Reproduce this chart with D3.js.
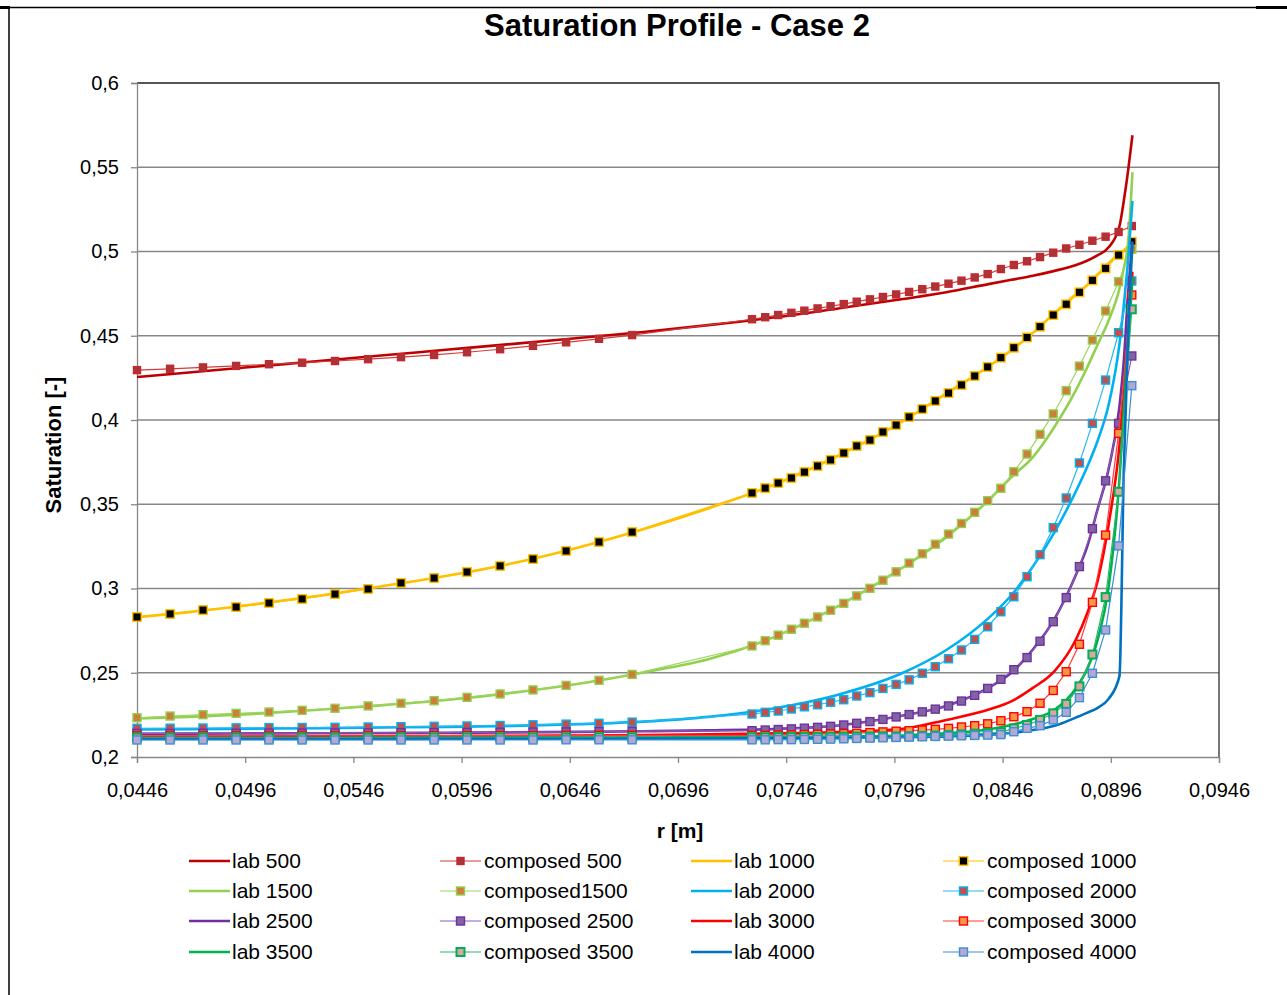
<!DOCTYPE html>
<html>
<head>
<meta charset="utf-8">
<script src="https://cdn.jsdelivr.net/npm/d3@7"></script>
<style>
  body { margin: 0; background: #fff; }
  svg { display: block; font-family: "Liberation Sans", Arial, sans-serif; }
</style>
</head>
<body>
<div id="chart"></div>
<script>
// radius grid of the lab (continuous) curves
const labR = [0.0446, 0.047, 0.050, 0.053, 0.056, 0.059, 0.062, 0.065, 0.068, 0.071,
  0.074, 0.077, 0.080, 0.082, 0.084, 0.085, 0.086, 0.087, 0.088, 0.0885,
  0.089, 0.0895, 0.090, 0.0902, 0.0904, 0.0906];

// radius grid of the composed (marker) series
const composedR = [0.0446, 0.04613, 0.04765, 0.04918, 0.0507, 0.05223, 0.05375, 0.05528,
  0.0568, 0.05833, 0.05985, 0.06138, 0.0629, 0.06443, 0.06595, 0.06748,
  0.07302, 0.07363, 0.07423, 0.07484, 0.07544, 0.07605, 0.07665, 0.07726, 0.07786, 0.07847,
  0.07907, 0.07968, 0.08028, 0.08089, 0.08149, 0.0821, 0.0827, 0.08331, 0.08391, 0.08452,
  0.08512, 0.08573, 0.08633, 0.08694, 0.08754, 0.08815, 0.08875, 0.08936, 0.08996, 0.09057];

const lab500 = [0.4255, 0.4282, 0.4316, 0.4350, 0.4384, 0.4418, 0.4452, 0.4487, 0.4522, 0.4563,
  0.4608, 0.4662, 0.4718, 0.4758, 0.4808, 0.4832, 0.4856, 0.4885, 0.4920, 0.4945,
  0.4978, 0.5025, 0.5150, 0.5300, 0.5480, 0.5690];
const lab1000 = [0.2831, 0.2860, 0.2906, 0.2957, 0.3015, 0.3077, 0.3151, 0.3244, 0.3352, 0.3475,
  0.3614, 0.3788, 0.3993, 0.4158, 0.4322, 0.4413, 0.4517, 0.4635, 0.4748, 0.4800,
  0.4865, 0.4930, 0.4990, 0.5005, 0.5025, 0.5055];
const lab1500 = [0.2228, 0.2238, 0.2256, 0.2280, 0.2308, 0.2340, 0.2382, 0.2435, 0.2502, 0.2580,
  0.2710, 0.2895, 0.3125, 0.3305, 0.3530, 0.3660, 0.3780, 0.3960, 0.4180, 0.4310,
  0.4450, 0.4590, 0.4780, 0.4900, 0.5050, 0.5470];
const lab2000 = [0.2163, 0.2165, 0.2168, 0.2171, 0.2175, 0.2179, 0.2185, 0.2195, 0.2210, 0.2238,
  0.2288, 0.2370, 0.2500, 0.2635, 0.2830, 0.2960, 0.3130, 0.3335, 0.3580, 0.3720,
  0.3880, 0.4090, 0.4450, 0.4680, 0.4950, 0.5300];
const lab2500 = [0.2138, 0.2139, 0.2140, 0.2141, 0.2142, 0.2144, 0.2146, 0.2149, 0.2153, 0.2158,
  0.2166, 0.2187, 0.2246, 0.2303, 0.2415, 0.2500, 0.2638, 0.2820, 0.3085, 0.3245,
  0.3475, 0.3710, 0.4080, 0.4350, 0.4750, 0.5060];
const lab3000 = [0.2120, 0.2121, 0.2122, 0.2123, 0.2124, 0.2125, 0.2126, 0.2128, 0.2130, 0.2134,
  0.2140, 0.2148, 0.2168, 0.2220, 0.2283, 0.2330, 0.2410, 0.2510, 0.2700, 0.2850,
  0.3050, 0.3380, 0.3850, 0.4150, 0.4500, 0.4880];
const lab3500 = [0.2112, 0.2112, 0.2113, 0.2113, 0.2114, 0.2114, 0.2115, 0.2115, 0.2116, 0.2117,
  0.2118, 0.2122, 0.2128, 0.2140, 0.2165, 0.2190, 0.2225, 0.2280, 0.2410, 0.2520,
  0.2700, 0.3010, 0.3650, 0.4050, 0.4450, 0.4850];
const lab4000 = [0.2107, 0.2107, 0.2107, 0.2107, 0.2107, 0.2108, 0.2108, 0.2108, 0.2109, 0.2110,
  0.2111, 0.2113, 0.2117, 0.2122, 0.2132, 0.2142, 0.2160, 0.2185, 0.2235, 0.2262,
  0.2292, 0.2345, 0.2480, 0.3700, 0.4500, 0.5050];

const composed500 = [0.4296, 0.4304, 0.4312, 0.4321, 0.4331, 0.4340, 0.4350, 0.4361, 0.4373, 0.4386,
  0.4402, 0.4420, 0.4440, 0.4461, 0.4482, 0.4504,
  0.4598, 0.4610, 0.4623, 0.4636, 0.4649, 0.4662, 0.4675, 0.4688, 0.4702, 0.4716,
  0.4730, 0.4745, 0.4760, 0.4776, 0.4792, 0.4809, 0.4827, 0.4846, 0.4866, 0.4896,
  0.4920, 0.4942, 0.4967, 0.4993, 0.5018, 0.5040, 0.5064, 0.5088, 0.5116, 0.5151];
const composed1000 = [0.2831, 0.2849, 0.2872, 0.2890, 0.2914, 0.2938, 0.2967, 0.2997, 0.3033, 0.3062,
  0.3098, 0.3134, 0.3175, 0.3223, 0.3276, 0.3335,
  0.3567, 0.3596, 0.3626, 0.3656, 0.3691, 0.3727, 0.3763, 0.3804, 0.3846, 0.3881,
  0.3929, 0.3970, 0.4018, 0.4065, 0.4113, 0.4160, 0.4208, 0.4261, 0.4315, 0.4370,
  0.4429, 0.4490, 0.4554, 0.4623, 0.4687, 0.4758, 0.4829, 0.4900, 0.4979, 0.5058];
const composed1500 = [0.2233, 0.2243, 0.2251, 0.2259, 0.2267, 0.2277, 0.2289, 0.2303, 0.2319, 0.2334,
  0.2354, 0.2374, 0.2398, 0.2425, 0.2455, 0.2490,
  0.2659, 0.2690, 0.2723, 0.2758, 0.2794, 0.2831, 0.2871, 0.2912, 0.2956, 0.3001,
  0.3049, 0.3099, 0.3151, 0.3206, 0.3263, 0.3323, 0.3386, 0.3452, 0.3521, 0.3595,
  0.3693, 0.3798, 0.3915, 0.4036, 0.4174, 0.4320, 0.4475, 0.4647, 0.4821, 0.5013];
const composed2000 = [0.2170, 0.2171, 0.2172, 0.2173, 0.2174, 0.2175, 0.2176, 0.2178, 0.2180, 0.2182,
  0.2184, 0.2187, 0.2191, 0.2195, 0.2200, 0.2207,
  0.2255, 0.2265, 0.2273, 0.2285, 0.2298, 0.2310, 0.2325, 0.2340, 0.2362, 0.2382,
  0.2407, 0.2431, 0.2458, 0.2497, 0.2536, 0.2583, 0.2635, 0.2698, 0.2773, 0.2862,
  0.2951, 0.3070, 0.3201, 0.3361, 0.3537, 0.3745, 0.3980, 0.4237, 0.4518, 0.4825];
const composed2500 = [0.2140, 0.2140, 0.2141, 0.2141, 0.2142, 0.2142, 0.2143, 0.2143, 0.2144, 0.2145,
  0.2146, 0.2147, 0.2148, 0.2149, 0.2151, 0.2153,
  0.2156, 0.2160, 0.2163, 0.2167, 0.2171, 0.2176, 0.2182, 0.2190, 0.2200, 0.2210,
  0.2223, 0.2238, 0.2252, 0.2268, 0.2284, 0.2303, 0.2332, 0.2366, 0.2407, 0.2461,
  0.2518, 0.2590, 0.2687, 0.2803, 0.2946, 0.3130, 0.3355, 0.3639, 0.3980, 0.4380];
const composed3000 = [0.2125, 0.2125, 0.2125, 0.2125, 0.2125, 0.2126, 0.2126, 0.2126, 0.2126, 0.2127,
  0.2127, 0.2127, 0.2127, 0.2128, 0.2128, 0.2128,
  0.2128, 0.2129, 0.2130, 0.2131, 0.2133, 0.2135, 0.2137, 0.2139, 0.2141, 0.2145,
  0.2149, 0.2153, 0.2156, 0.2160, 0.2164, 0.2170, 0.2178, 0.2186, 0.2197, 0.2215,
  0.2239, 0.2269, 0.2319, 0.2395, 0.2506, 0.2669, 0.2918, 0.3317, 0.3921, 0.4742];
const composed3500 = [0.2115, 0.2115, 0.2115, 0.2115, 0.2115, 0.2115, 0.2115, 0.2115, 0.2116, 0.2116,
  0.2116, 0.2116, 0.2116, 0.2116, 0.2117, 0.2117,
  0.2117, 0.2117, 0.2118, 0.2118, 0.2119, 0.2119, 0.2120, 0.2120, 0.2121, 0.2121,
  0.2122, 0.2122, 0.2123, 0.2125, 0.2127, 0.2130, 0.2134, 0.2138, 0.2142, 0.2147,
  0.2170, 0.2190, 0.2220, 0.2259, 0.2315, 0.2419, 0.2608, 0.2949, 0.3574, 0.4657];
const composed4000 = [0.2101, 0.2101, 0.2101, 0.2101, 0.2101, 0.2101, 0.2101, 0.2101, 0.2101, 0.2101,
  0.2101, 0.2101, 0.2101, 0.2102, 0.2102, 0.2102,
  0.2102, 0.2102, 0.2103, 0.2103, 0.2104, 0.2105, 0.2106, 0.2108, 0.2110, 0.2112,
  0.2114, 0.2116, 0.2118, 0.2120, 0.2122, 0.2124, 0.2126, 0.2128, 0.2130, 0.2133,
  0.2150, 0.2170, 0.2186, 0.2220, 0.2265, 0.2352, 0.2497, 0.2754, 0.3253, 0.4204];

const labNames = ['lab 500', 'lab 1000', 'lab 1500', 'lab 2000', 'lab 2500', 'lab 3000', 'lab 3500', 'lab 4000'];
const composedNames = ['composed 500', 'composed 1000', 'composed1500', 'composed 2000',
  'composed 2500', 'composed 3000', 'composed 3500', 'composed 4000'];
const labValues = [lab500, lab1000, lab1500, lab2000, lab2500, lab3000, lab3500, lab4000];
const composedValues = [composed500, composed1000, composed1500, composed2000,
  composed2500, composed3000, composed3500, composed4000];

const xTicks = [0.0446, 0.0496, 0.0546, 0.0596, 0.0646, 0.0696, 0.0746, 0.0796, 0.0846, 0.0896, 0.0946];
const yTicks = [0.2, 0.25, 0.3, 0.35, 0.4, 0.45, 0.5, 0.55, 0.6];

// styles
const labColor = ['#C00000', '#FFC000', '#92D050', '#00B0F0', '#7030A0', '#FF0000', '#00B050', '#0070C0'];
const compLine = ['#D23C3C', '#FFC000', '#9CD65E', '#28B8F0', '#8A5CB8', '#FF3A3A', '#2AB865', '#3C8ED6'];
const compFill = ['#A8353A', '#000000', '#CD7F3A', '#C0504D', '#8064A2', '#F79646', '#D9A5A5', '#B3A9D0'];
const compStroke = ['#C8262B', '#FFC000', '#92D050', '#00B0F0', '#7030A0', '#FF0000', '#00B050', '#3C8ED6'];
const markSize = [7, 8.5, 8, 8, 8, 8, 8, 8];

const W = 1287, H = 995;
const fmt = d => String(d).replace('.', ',');

const svg = d3.select('#chart').append('svg').attr('width', W).attr('height', H);

// page frame
svg.append('line').attr('x1', 0).attr('x2', W).attr('y1', 7.5).attr('y2', 7.5)
  .attr('stroke', '#000').attr('stroke-width', 1.5);
svg.append('line').attr('x1', 1256).attr('x2', W).attr('y1', 7.5).attr('y2', 7.5)
  .attr('stroke', '#000').attr('stroke-width', 3);
svg.append('line').attr('x1', 0).attr('x2', 10).attr('y1', 7.5).attr('y2', 7.5)
  .attr('stroke', '#000').attr('stroke-width', 3);
svg.append('line').attr('x1', 9).attr('x2', 9).attr('y1', 7).attr('y2', H)
  .attr('stroke', '#000').attr('stroke-width', 1.5);

const x = d3.scaleLinear().domain([0.0446, 0.0946]).range([137, 1219]);
const y = d3.scaleLinear().domain([0.2, 0.6]).range([757, 83]);

// grid
svg.append('g').selectAll('line').data(yTicks.slice(1)).join('line')
  .attr('x1', 137).attr('x2', 1219)
  .attr('y1', d => y(d)).attr('y2', d => y(d))
  .attr('stroke', '#878787').attr('stroke-width', 1.3);
svg.append('path')
  .attr('d', `M${x(0.0446)},${y(0.6)}H${x(0.0946)}V${y(0.2)}`)
  .attr('fill', 'none').attr('stroke', '#3c3c3c').attr('stroke-width', 1.4);

// axes
const xAxis = svg.append('g').attr('transform', `translate(0,${y(0.2)})`)
  .call(d3.axisBottom(x).tickValues(xTicks).tickFormat(fmt).tickSize(6).tickPadding(20));
const yAxis = svg.append('g').attr('transform', `translate(${x(0.0446)},0)`)
  .call(d3.axisLeft(y).tickValues(yTicks).tickFormat(fmt).tickSize(6).tickPadding(12));
[xAxis, yAxis].forEach(g => {
  g.select('.domain').attr('stroke', '#878787').attr('stroke-width', 1.3);
  g.selectAll('.tick line').attr('stroke', '#878787').attr('stroke-width', 1.3);
  g.selectAll('.tick text').attr('fill', '#000').style('font-size', '20px')
    .style('font-family', '"Liberation Sans", Arial, sans-serif');
});

// series, drawn in legend order
const labLine = d3.line().x(d => x(d[0])).y(d => y(d[1])).curve(d3.curveMonotoneX);
const compLineGen = d3.line().x(d => x(d[0])).y(d => y(d[1]));
const plot = svg.append('g');

labNames.forEach((name, i) => {
  const labPts = labR.map((r, k) => [r, labValues[i][k]]);
  plot.append('path').datum(labPts)
    .attr('d', labLine)
    .attr('fill', 'none').attr('stroke', labColor[i]).attr('stroke-width', 2.6);

  const compPts = composedR.map((r, k) => [r, composedValues[i][k]]);
  const g = plot.append('g');
  g.append('path').datum(compPts)
    .attr('d', compLineGen)
    .attr('fill', 'none').attr('stroke', compLine[i]).attr('stroke-width', 1.2);
  const s = markSize[i];
  g.selectAll('rect').data(compPts).join('rect')
    .attr('x', d => x(d[0]) - s / 2).attr('y', d => y(d[1]) - s / 2)
    .attr('width', s).attr('height', s)
    .attr('fill', compFill[i]).attr('stroke', compStroke[i])
    .attr('stroke-width', i === 6 ? 2 : 1.4);
});

// titles
svg.append('text').attr('x', 677).attr('y', 36).attr('text-anchor', 'middle')
  .style('font-size', '31px').style('font-weight', 'bold').text('Saturation Profile - Case 2');
svg.append('text').attr('x', 680).attr('y', 838).attr('text-anchor', 'middle')
  .style('font-size', '21px').style('font-weight', 'bold').text('r [m]');
svg.append('text').attr('transform', 'translate(61,445) rotate(-90)').attr('text-anchor', 'middle')
  .style('font-size', '22px').style('font-weight', 'bold').text('Saturation [-]');

// legend (4 columns, row-major: lab, composed, lab, composed)
const legendX = [189, 440, 691, 943];
const legendY = [861, 891, 921, 952];
const legendItems = [];
labNames.forEach((n, i) => {
  legendItems.push({ name: n, type: 'lab', i });
  legendItems.push({ name: composedNames[i], type: 'comp', i });
});
const legend = svg.append('g');
legendItems.forEach((d, k) => {
  const lx = legendX[k % 4], ly = legendY[Math.floor(k / 4)];
  const item = legend.append('g').attr('transform', `translate(${lx},${ly})`);
  if (d.type === 'lab') {
    item.append('line').attr('x1', 0).attr('x2', 41)
      .attr('stroke', labColor[d.i]).attr('stroke-width', 2.6);
  } else {
    item.append('line').attr('x1', 0).attr('x2', 41)
      .attr('stroke', compLine[d.i]).attr('stroke-width', 1.2);
    const s = markSize[d.i];
    item.append('rect').attr('x', 20.5 - s / 2).attr('y', -s / 2).attr('width', s).attr('height', s)
      .attr('fill', compFill[d.i]).attr('stroke', compStroke[d.i])
      .attr('stroke-width', d.i === 6 ? 2 : 1.4);
  }
  item.append('text').attr('x', d.type === 'lab' ? 43 : 44).attr('y', 0).attr('dy', '0.35em')
    .style('font-size', '21px').attr('fill', '#000').text(d.name);
});
</script>
</body>
</html>
